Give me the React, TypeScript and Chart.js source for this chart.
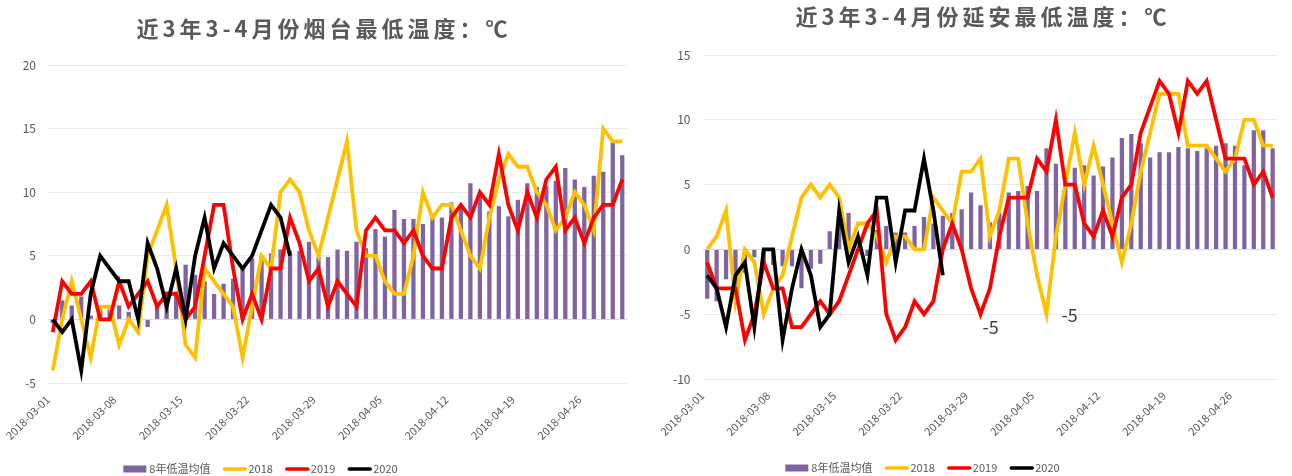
import React, { useEffect, useRef } from "react";
import { Chart, registerables } from "chart.js";

Chart.register(...registerables);

const FONT = '"Noto Sans CJK SC", "Noto Sans", sans-serif';

const dates = [
  "2018-03-01", "2018-03-02", "2018-03-03", "2018-03-04", "2018-03-05", "2018-03-06", "2018-03-07",
  "2018-03-08", "2018-03-09", "2018-03-10", "2018-03-11", "2018-03-12", "2018-03-13", "2018-03-14",
  "2018-03-15", "2018-03-16", "2018-03-17", "2018-03-18", "2018-03-19", "2018-03-20", "2018-03-21",
  "2018-03-22", "2018-03-23", "2018-03-24", "2018-03-25", "2018-03-26", "2018-03-27", "2018-03-28",
  "2018-03-29", "2018-03-30", "2018-03-31", "2018-04-01", "2018-04-02", "2018-04-03", "2018-04-04",
  "2018-04-05", "2018-04-06", "2018-04-07", "2018-04-08", "2018-04-09", "2018-04-10", "2018-04-11",
  "2018-04-12", "2018-04-13", "2018-04-14", "2018-04-15", "2018-04-16", "2018-04-17", "2018-04-18",
  "2018-04-19", "2018-04-20", "2018-04-21", "2018-04-22", "2018-04-23", "2018-04-24", "2018-04-25",
  "2018-04-26", "2018-04-27", "2018-04-28", "2018-04-29", "2018-04-30",
];
const tickLabels = ["2018-03-01", "2018-03-08", "2018-03-15", "2018-03-22", "2018-03-29", "2018-04-05", "2018-04-12", "2018-04-19", "2018-04-26"];
const seriesNames = ["8年低温均值", "2018", "2019", "2020"];

// 烟台
const yantaiAvg = [
  -0.3, 1.5, 1.1, 1.8, 0.3, 0.8, 0.8, 1.1, 0.6, 0.5, -0.6, 1.0, 2.2, 2.2, 4.3, 3.5, 3.0, 2.0, 2.8, 3.2,
  4.0, 4.8, 5.0, 5.2, 5.5, 5.4, 5.4, 6.1, 4.9, 4.9, 5.5, 5.4, 6.1, 5.6, 7.1, 6.5, 8.6, 7.9, 7.9, 7.5,
  8.0, 8.0, 9.2, 8.8, 10.7, 9.7, 8.5, 8.9, 8.1, 9.4, 10.7, 10.4, 10.5, 10.9, 11.9, 11.0, 10.4, 11.3, 11.6, 13.9,
  12.9,
];
const yantai2018 = [
  -4, 0, 3, 0, -3, 1, 1, -2, 0, -1, 5, 7, 9, 4, -2, -3, 4, 3, 2, 1,
  -3, 1, 5, 4, 10, 11, 10, 7, 5, 8, 11, 14, 7, 5, 5, 3, 2, 2, 5, 10,
  8, 9, 9, 7, 5, 4, 8, 11, 13, 12, 12, 10, 9, 7, 8, 10, 9, 7, 15, 14,
  14,
];
const yantai2019 = [
  -1, 3, 2, 2, 3, 0, 0, 3, 1, 2, 3, 1, 2, 2, 0, 1, 5, 9, 9, 4,
  0, 2, 0, 4, 4, 8, 6, 3, 4, 1, 3, 2, 1, 7, 8, 7, 7, 6, 7, 5,
  4, 4, 8, 9, 8, 10, 9, 13, 9, 7, 10, 8, 11, 12, 7, 8, 6, 8, 9, 9,
  11,
];
const yantai2020 = [0, -1, 0, -4, 2, 5, 4, 3, 3, 0, 6, 4, 1, 4, 0, 5, 8, 4, 6, 5, 4, 5, 7, 9, 8, 5];

// 延安
const yananAvg = [
  -3.8, -4.0, -2.3, -2.9, -1.8, -0.6, -1.5, -1.2, -1.3, -1.3, -3.0, -1.5, -1.1, 1.4, 2.0, 2.8, -0.2, -0.5, 1.5, 1.8,
  1.3, 1.3, 1.8, 2.5, 2.0, 2.6, 2.8, 3.1, 4.4, 3.4, 2.1, 2.8, 4.4, 4.5, 4.9, 4.5, 7.8, 6.6, 5.0, 6.3,
  6.5, 5.7, 6.4, 7.1, 8.6, 8.9, 8.2, 7.1, 7.5, 7.5, 7.9, 7.8, 7.6, 7.8, 8.0, 8.2, 8.0, 6.5, 9.2, 9.2,
  7.8,
];
const yanan2018 = [
  0, 1, 3, -4, 0, -1, -5, -3, -2, 1, 4, 5, 4, 5, 4, 0, 2, 2, 1, -1,
  1, 1, 0, 0, 4, 3, 2, 6, 6, 7, 1, 3, 7, 7, 2, -2, -5, 1, 5, 9,
  5, 8, 5, 2, -1, 2, 6, 9, 12, 12, 12, 8, 8, 8, 7, 6, 7, 10, 10, 8,
  8,
];
const yanan2019 = [
  -1, -3, -3, -3, -7, -5, -1, -3, -3, -6, -6, -5, -4, -5, -4, -2, 0, 2, 3, -5,
  -7, -6, -4, -5, -4, 0, 2, 0, -3, -5, -3, 1, 4, 4, 4, 7, 6, 10, 5, 5,
  2, 1, 3, 1, 4, 5, 9, 11, 13, 12, 9, 13, 12, 13, 10, 7, 7, 7, 5, 6,
  4,
];
const yanan2020 = [-2, -3, -6, -2, -1, -6, 0, 0, -7, -3, 0, -2, -6, -5, 3, -1, 1, -2, 4, 4, -1, 3, 3, 7, 3, -2];

const COLORS = { avg: "#8064A2", y2018: "#FFC000", y2019: "#FF0000", y2020: "#000000" };

const decorPlugin = {
  id: "decor",
  afterDraw(chart: any, _args: any, o: any) {
    const ctx = chart.ctx as CanvasRenderingContext2D;
    ctx.save();
    // title
    ctx.font = `bold ${o.titleSize}px ${FONT}`;
    ctx.fillStyle = "#595959";
    ctx.textAlign = "center";
    ctx.textBaseline = "middle";
    (ctx as any).letterSpacing = `${o.titleSpacing}px`;
    ctx.fillText(o.title, o.titleX + o.titleSpacing / 2, o.titleY);
    (ctx as any).letterSpacing = "0px";
    // legend
    ctx.font = `11px ${FONT}`;
    ctx.textAlign = "left";
    ctx.textBaseline = "middle";
    const items = chart.data.datasets.map((ds: any) => ({
      label: ds.label as string,
      color: ds.type === "bar" ? ds.backgroundColor : ds.borderColor,
      bar: ds.type === "bar",
      w: 0,
    }));
    const symW = 24, symGap = 2, itemGap = 12;
    let total = 0;
    items.forEach((it: any, i: number) => {
      it.w = ctx.measureText(it.label).width;
      total += symW + symGap + it.w + (i < items.length - 1 ? itemGap : 0);
    });
    let x = o.legendX - total / 2;
    const y = o.legendY;
    items.forEach((it: any) => {
      if (it.bar) {
        ctx.fillStyle = it.color;
        ctx.fillRect(x, y - 3.5, symW - 1, 7);
      } else {
        ctx.strokeStyle = it.color;
        ctx.lineWidth = 3.5;
        ctx.lineCap = "round";
        ctx.beginPath();
        ctx.moveTo(x + 2, y);
        ctx.lineTo(x + symW - 1, y);
        ctx.stroke();
      }
      ctx.fillStyle = "#595959";
      ctx.fillText(it.label, x + symW + symGap, y);
      x += symW + symGap + it.w + itemGap;
    });
    // data labels
    ctx.font = `18px ${FONT}`;
    ctx.fillStyle = "#404040";
    (o.annotations || []).forEach((a: any) => {
      const el = chart.getDatasetMeta(a.ds).data[a.idx];
      const v = chart.data.datasets[a.ds].data[a.idx];
      if (!el) return;
      ctx.textAlign = a.align;
      ctx.textBaseline = a.baseline;
      ctx.fillText(String(v), el.x + a.dx, el.y + a.dy);
    });
    ctx.restore();
  },
};

type Params = {
  title: string;
  titleX: number;
  titleY: number;
  legendX: number;
  legendY: number;
  avg: number[];
  s2018: number[];
  s2019: number[];
  s2020: number[];
  yMin: number;
  yMax: number;
  padTop: number;
  padRight: number;
  yWidth: number;
  xHeight: number;
  annotations: any[];
};

function buildConfig(p: Params): any {
  const line = (label: string, data: number[], color: string, order: number) => ({
    type: "line",
    label,
    data,
    borderColor: color,
    backgroundColor: color,
    borderWidth: 3.8,
    pointRadius: 0,
    pointHoverRadius: 0,
    tension: 0,
    fill: false,
    order,
  });
  return {
    data: {
      labels: dates,
      datasets: [
        {
          type: "bar",
          label: seriesNames[0],
          data: p.avg,
          backgroundColor: COLORS.avg,
          borderWidth: 0,
          barPercentage: 0.45,
          categoryPercentage: 1,
          order: 4,
        },
        line(seriesNames[1], p.s2018, COLORS.y2018, 3),
        line(seriesNames[2], p.s2019, COLORS.y2019, 2),
        line(seriesNames[3], p.s2020, COLORS.y2020, 1),
      ],
    },
    options: {
      responsive: false,
      animation: false,
      events: [],
      layout: { padding: { top: p.padTop, right: p.padRight, bottom: 0, left: 0 } },
      plugins: {
        legend: { display: false },
        title: { display: false },
        tooltip: { enabled: false },
        decor: {
          title: p.title,
          titleX: p.titleX,
          titleY: p.titleY,
          titleSize: 22,
          titleSpacing: 4,
          legendX: p.legendX,
          legendY: p.legendY,
          annotations: p.annotations,
        },
      },
      scales: {
        x: {
          type: "category",
          offset: true,
          grid: { display: false, drawTicks: false },
          border: { display: false },
          ticks: {
            autoSkip: false,
            maxRotation: 45,
            minRotation: 45,
            padding: 10,
            labelOffset: -5,
            color: "#595959",
            font: { size: 11, family: FONT },
            callback: (_v: any, i: number) => (tickLabels.includes(dates[i]) ? dates[i] : ""),
          },
          afterFit: (s: any) => {
            s.height = p.xHeight;
          },
        },
        y: {
          min: p.yMin,
          max: p.yMax,
          grid: {
            color: (c: any) => (c.tick && c.tick.value === 0 ? "#D9D9D9" : "#EBEBEB"),
            lineWidth: 1,
            drawTicks: false,
          },
          border: { display: false },
          ticks: {
            stepSize: 5,
            padding: 12,
            color: "#595959",
            font: { size: 12, family: FONT },
          },
          afterFit: (s: any) => {
            s.width = p.yWidth;
          },
        },
      },
    },
    plugins: [decorPlugin],
  };
}

function ChartBox({ params, left, width, height }: { params: Params; left: number; width: number; height: number }) {
  const ref = useRef<HTMLCanvasElement>(null);
  useEffect(() => {
    if (!ref.current) return;
    const chart = new Chart(ref.current, buildConfig(params));
    return () => chart.destroy();
  }, []);
  return (
    <canvas
      ref={ref}
      width={width}
      height={height}
      style={{ position: "absolute", left, top: 0, width, height }}
    />
  );
}

const yantaiParams: Params = {
  title: "近3年3-4月份烟台最低温度：℃",
  titleX: 322,
  titleY: 29,
  legendX: 260.5,
  legendY: 469,
  avg: yantaiAvg,
  s2018: yantai2018,
  s2019: yantai2019,
  s2020: yantai2020,
  yMin: -5,
  yMax: 20,
  padTop: 65,
  padRight: 19,
  yWidth: 48,
  xHeight: 93,
  annotations: [],
};

const yananParams: Params = {
  title: "近3年3-4月份延安最低温度：℃",
  titleX: 331,
  titleY: 17,
  legendX: 272.5,
  legendY: 468,
  avg: yananAvg,
  s2018: yanan2018,
  s2019: yanan2019,
  s2020: yanan2020,
  yMin: -10,
  yMax: 15,
  padTop: 55,
  padRight: 0,
  yWidth: 52.5,
  xHeight: 97,
  annotations: [
    { ds: 2, idx: 29, dx: 2, dy: 4, align: "left", baseline: "top" },
    { ds: 1, idx: 36, dx: 15, dy: 1, align: "left", baseline: "middle" },
  ],
};

export default function App() {
  return (
    <div style={{ position: "absolute", left: 0, top: 0, width: 1292, height: 476, background: "#fff", overflow: "hidden" }}>
      <ChartBox params={yantaiParams} left={0} width={646} height={476} />
      <ChartBox params={yananParams} left={650} width={642} height={476} />
    </div>
  );
}
